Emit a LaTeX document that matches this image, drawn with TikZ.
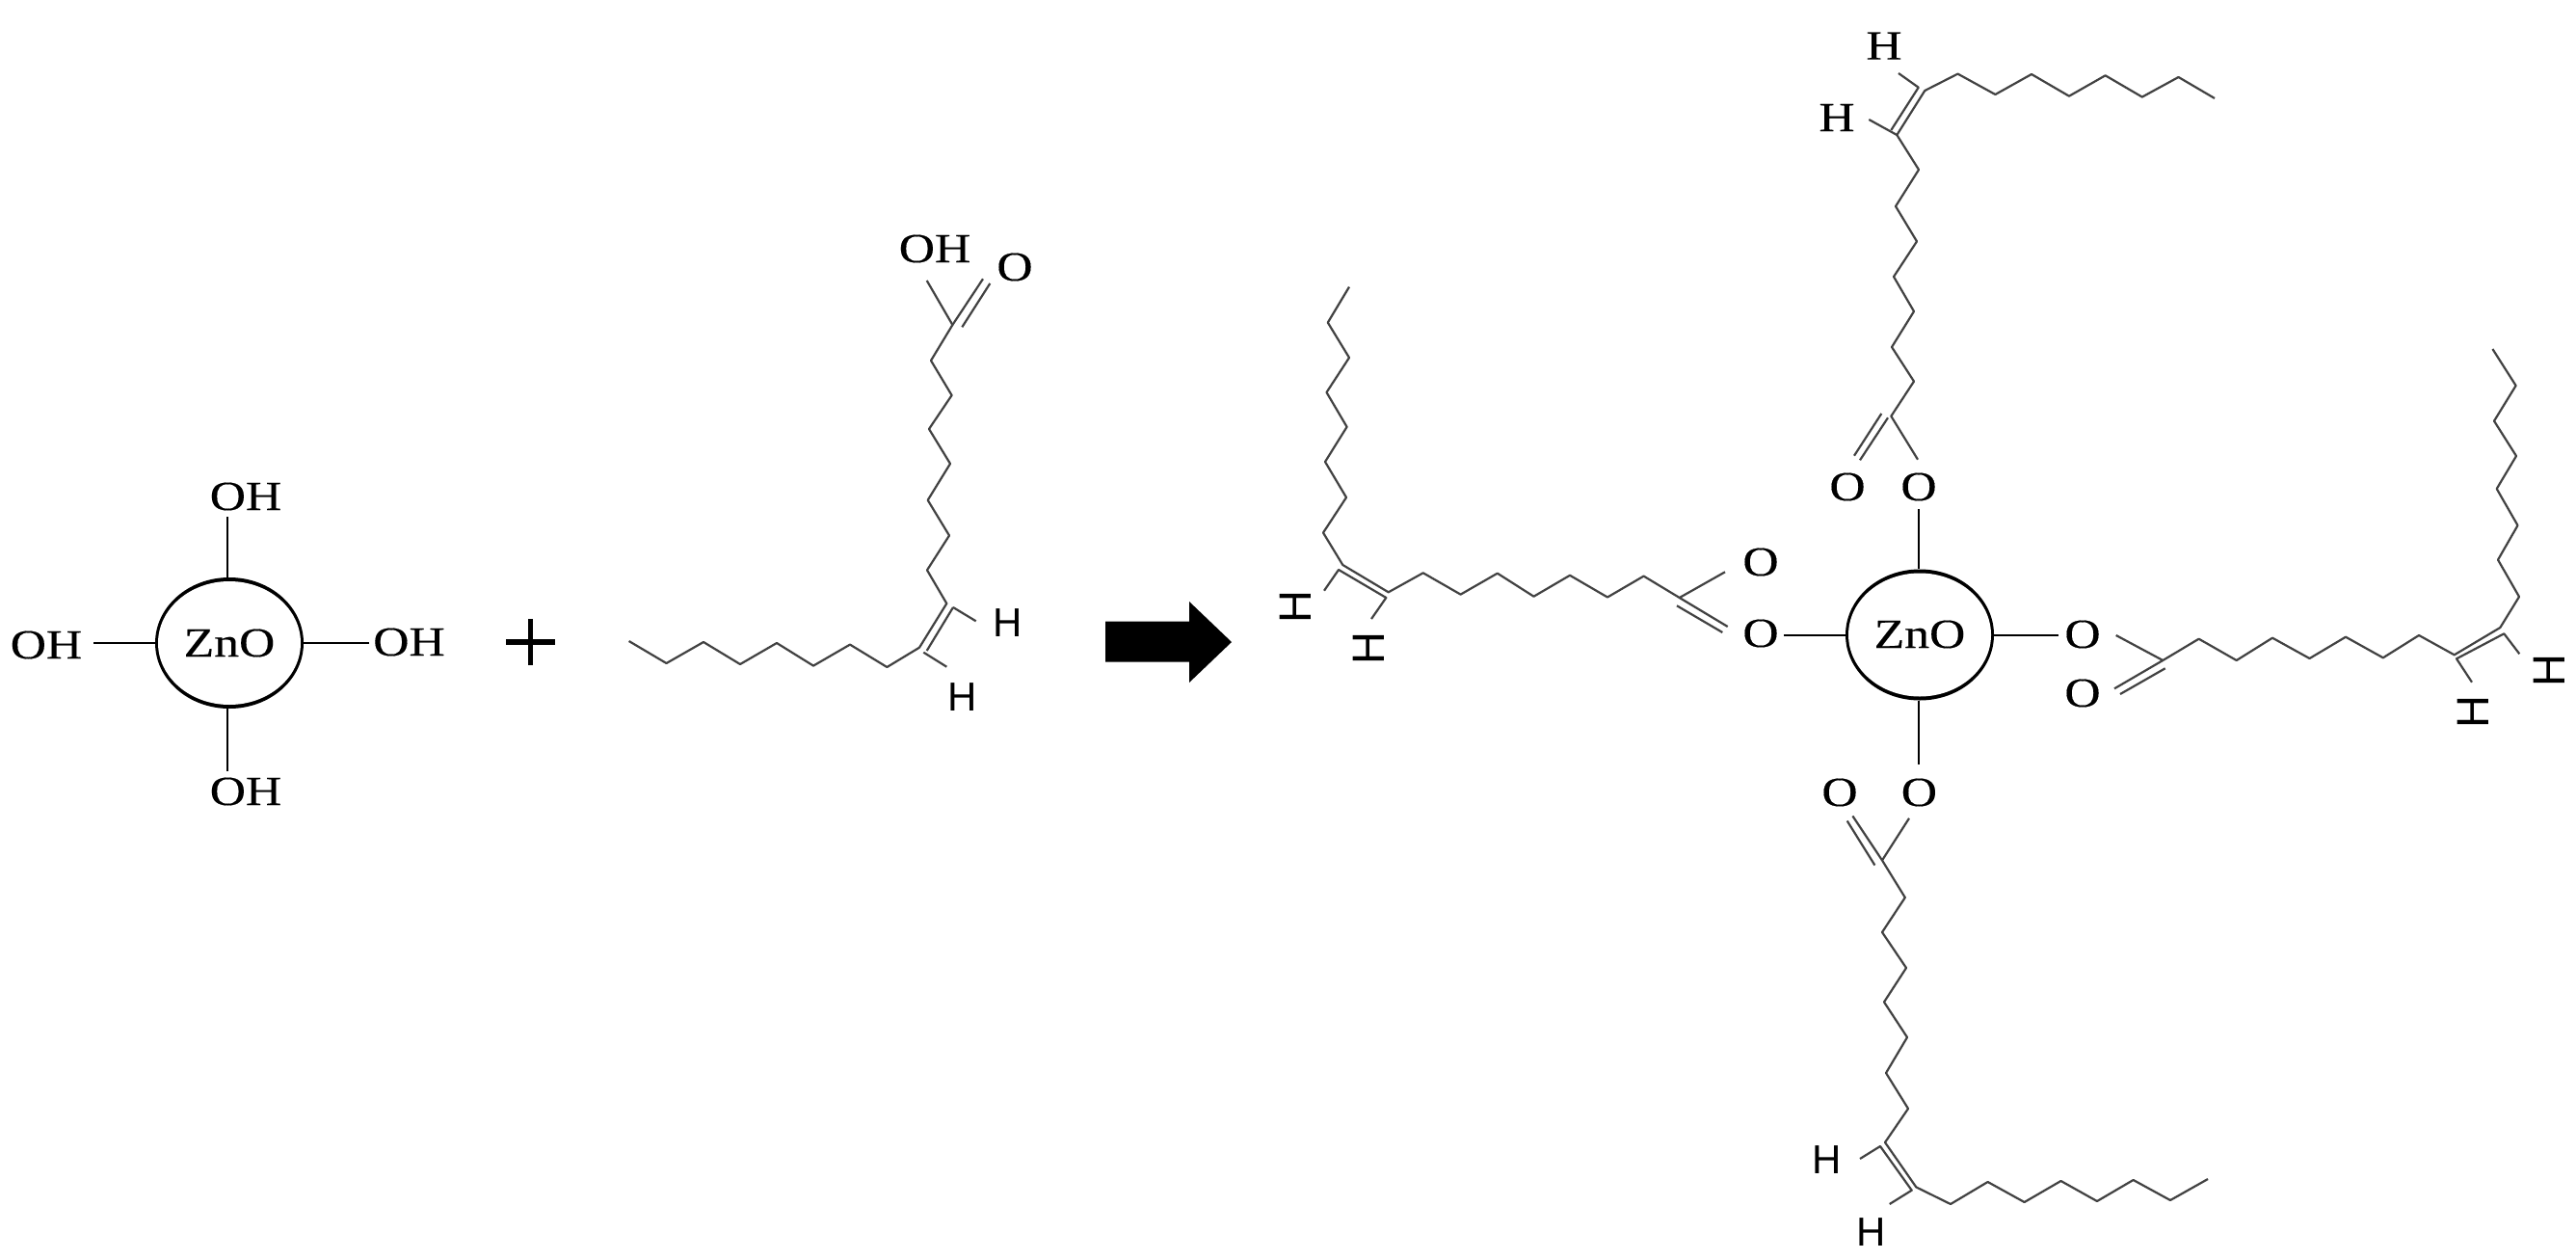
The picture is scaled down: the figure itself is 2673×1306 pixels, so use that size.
\documentclass[tikz,border=0pt]{standalone}
\usepackage{fontspec}
\setmainfont{Liberation Serif}
\newfontfamily\hserif[FakeStretch=1.2,FakeBold=0.25]{Liberation Serif}
\newfontfamily\hsans{Liberation Sans}
\usetikzlibrary{shapes.geometric}
\tikzset{
  x=1pt,y=-1pt,
  chain/.style={draw=black!74,line width=2.2pt,line join=round},
  spoke/.style={draw=black,line width=2pt},
  sertext/.style={inner sep=0pt,font=\hserif\fontsize{43}{43}\selectfont},
  santext/.style={inner sep=0pt,font=\hsans\fontsize{42}{42}\selectfont},
  santurn/.style={inner sep=0pt,font=\hsans\fontsize{47}{47}\selectfont,rotate=90,transform shape},
  coreout/.style={fill=black,ellipse,minimum width=154pt,minimum height=136pt,inner sep=0pt},
  corein/.style={fill=white,ellipse,minimum width=148pt,minimum height=128pt,inner sep=0pt},
}
\begin{document}
\begin{tikzpicture}
\useasboundingbox (0,0) rectangle (2673,1306);
\fill[white] (0,0) rectangle (2673,1306);
% ---------- left ZnO
\node[coreout] (zlo) at (238,667) {};
\node[corein] (zl) at (238,667) {};
\node[sertext] (zlt) at (238,667) {ZnO};
\node[sertext] (oht) at (255,515) {OH};
\node[sertext] (ohl) at (48,669) {OH};
\node[sertext] (ohr) at (424.5,666) {OH};
\node[sertext] (ohb) at (255,821) {OH};
\coordinate (st) at (235.5,536);
\coordinate (sl) at (97,667);
\coordinate (sr) at (383,667);
\coordinate (sb) at (235.5,800);
\draw[spoke] (st) -- (st |- zlo.north);
\draw[spoke] (sl) -- (sl -| zlo.west);
\draw[spoke] (sr) -- (sr -| zlo.east);
\draw[spoke] (sb) -- (sb |- zlo.south);
% plus
\node[inner sep=0pt] (plus) at (550.6,666) {};
\draw[black,line width=6pt] (525,666) -- (576,666);
\draw[black,line width=5pt] (550.6,642) -- (550.6,690);
% arrow
\fill[black] (1147,644.5) -- (1234,644.5) -- (1234,624) -- (1278,666) -- (1234,708) -- (1234,686.5) -- (1147,686.5) -- cycle;
% ---------- oleic acid
\draw[chain] (652.6,665) -- (691.5,688) -- (730,666) -- (768,689) -- (806,667) -- (844,690.6) -- (882,668.6) -- (920.4,692) -- (954,671.7) -- (982.3,626) -- (962,591.4) -- (985,555.5) -- (962.7,518.8) -- (986,481) -- (964,445) -- (987.6,410) -- (966,374) -- (988.4,337) -- (961.7,291);
\draw[chain] (961.7,675) -- (989,630);
\draw[chain] (958.3,676.7) -- (982.3,691.7);
\draw[chain] (989,630) -- (1012.7,644.3);
\draw[chain] (988.4,337) -- (1020,289.3);
\draw[chain] (998.3,339.3) -- (1027.3,294);
\node[sertext] (acoh) at (970,258) {OH};
\node[sertext] (aco) at (1053,277) {O};
\node[santext] (ah1) at (1046,646.5) {H};
\node[santext] (ah2) at (999,723) {H};
% ---------- right ZnO
\node[coreout] (zro) at (1992,658.5) {};
\node[corein] (zr) at (1992,658.5) {};
\node[sertext] (zrt) at (1992,658) {ZnO};
\coordinate (rt) at (1990.5,528);
\coordinate (rl) at (1851,659);
\coordinate (rr) at (2136,659);
\coordinate (rb) at (1990.5,793);
\draw[spoke] (rt) -- (rt |- zro.north);
\draw[spoke] (rl) -- (rl -| zro.west);
\draw[spoke] (rr) -- (rr -| zro.east);
\draw[spoke] (rb) -- (rb |- zro.south);
\node[sertext] (ot1) at (1917,505) {O};
\node[sertext] (ot2) at (1991,505) {O};
\node[sertext] (ol1) at (1827,583) {O};
\node[sertext] (ol2) at (1827,657) {O};
\node[sertext] (or1) at (2161,658) {O};
\node[sertext] (or2) at (2161,719) {O};
\node[sertext] (ob1) at (1909,822) {O};
\node[sertext] (ob2) at (1991.4,822) {O};
% ---------- upper chain
\node[sertext] (uh1) at (1955,47.6) {H};
\node[sertext] (uh2) at (1906,122) {H};
\draw[chain] (2298,102) -- (2260.5,80) -- (2222.8,100.6) -- (2184.6,78.3) -- (2147,99.7) -- (2108,77) -- (2070.4,98) -- (2031.5,76.6) -- (1997.3,94) -- (1968.3,140) -- (1939.3,124);
\draw[chain] (1970,76) -- (1990.7,90.7) -- (1962.3,135);
\draw[chain] (1968.3,140) -- (1991,176) -- (1967,214) -- (1989,250.4) -- (1965,287) -- (1986,323) -- (1963,360) -- (1986,395.6) -- (1962.3,431.7) -- (1990,476.7);
\draw[chain] (1952.3,429) -- (1924,472.7);
\draw[chain] (1959,433.3) -- (1930,477.3);
% ---------- left chain
\draw[chain] (1400,297.6) -- (1377.8,334.6) -- (1400,371) -- (1376.5,407) -- (1397.6,442.8) -- (1375,479) -- (1397,516) -- (1373,552.6) -- (1393.3,586) -- (1440.7,614.3) -- (1476.7,594.3) -- (1515.6,616.6) -- (1553.8,594.7) -- (1591.5,618.7) -- (1629,596.8) -- (1668,619.5) -- (1705.6,597.6) -- (1742.7,620) -- (1790,593.3);
\draw[chain] (1374,612.7) -- (1389,591) -- (1438.3,620) -- (1423,642);
\draw[chain] (1742.7,620) -- (1792.7,650);
\draw[chain] (1740,628.3) -- (1787.3,656);
\node[santurn] (lh1) at (1344,630) {H};
\node[santurn] (lh2) at (1420,673) {H};
% ---------- right chain
\draw[chain] (2195.7,659) -- (2244.3,685) -- (2281.6,662.7) -- (2320.7,685) -- (2358,661.7) -- (2396.5,683) -- (2434,660.7) -- (2472.8,682.3) -- (2510,659) -- (2546.7,679.3) -- (2594.3,651) -- (2614,619) -- (2592,580.7) -- (2612.5,545) -- (2590.7,507) -- (2611,473) -- (2588,436.7) -- (2610.6,400) -- (2586.4,362);
\draw[chain] (2244.3,685) -- (2194,714.3);
\draw[chain] (2246.7,693.3) -- (2200,720);
\draw[chain] (2565,707.7) -- (2549,683.3) -- (2598.3,657.3) -- (2614.3,678.3);
\node[santurn] (rh1) at (2645,695.7) {H};
\node[santurn] (rh2) at (2566,739) {H};
% ---------- lower chain
\draw[chain] (1981,848.8) -- (1953,892.4) -- (1976.8,931) -- (1953,967) -- (1978,1004) -- (1955,1039.4) -- (1979,1076) -- (1957,1113) -- (1980,1150) -- (1956,1185) -- (1988.3,1231.4) -- (2024,1249) -- (2062.6,1226) -- (2100.6,1247) -- (2138.5,1225) -- (2176,1246) -- (2213.6,1224) -- (2252,1245) -- (2291,1223);
\draw[chain] (1922.4,846.4) -- (1953,892.4);
\draw[chain] (1916.7,851.5) -- (1945.4,897.5);
\draw[chain] (1930,1202) -- (1951,1189) -- (1983.7,1234.7) -- (1960.7,1249);
\node[santext] (bh1) at (1896,1203.5) {H};
\node[santext] (bh2) at (1942,1278) {H};
\end{tikzpicture}
\end{document}
